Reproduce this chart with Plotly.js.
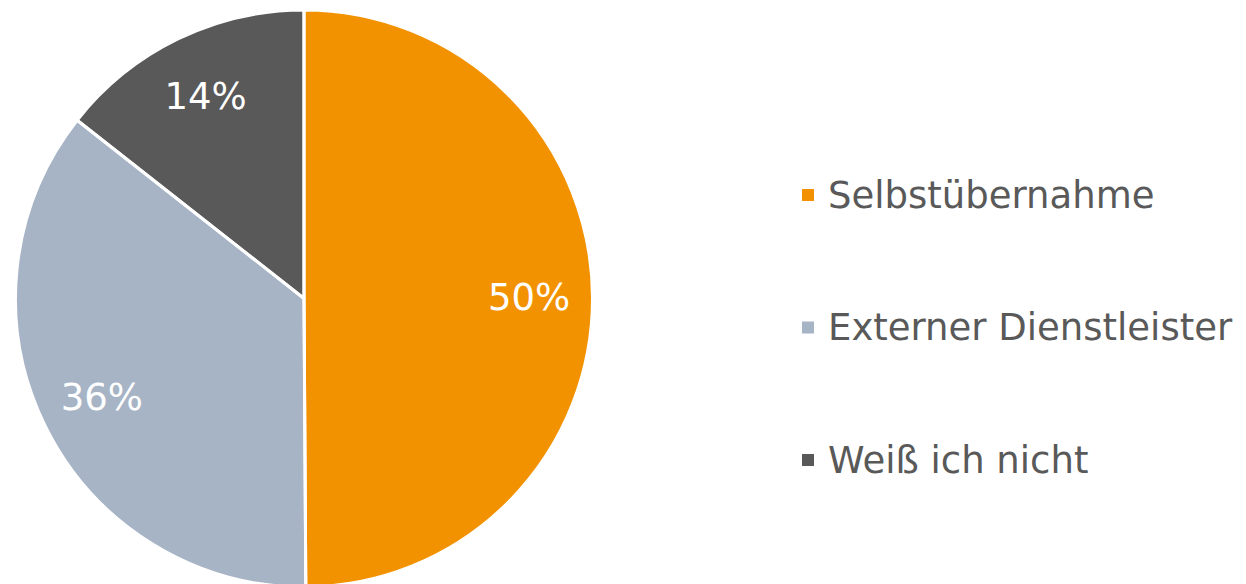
<!DOCTYPE html>
<html>
<head>
<meta charset="utf-8">
<script src="https://cdn.plot.ly/plotly-3.0.1.min.js"></script>
<style>
html,body{margin:0;padding:0;overflow:hidden;background:#fff;}
#chart{width:1246px;height:590px;}
</style>
</head>
<body>
<div id="chart"></div>
<script>
const categories = ["Selbstübernahme", "Externer Dienstleister", "Weiß ich nicht"];
const shares = [49.9, 35.7, 14.4];
const colors = ["#F39200", "#A7B4C6", "#595959"];

const FONT = "DejaVu Sans, Verdana, sans-serif";
const legendLabels = categories.map(c => '<span style="font-size:37px">' + c + '</span><br> <br> ');
const pieDomain = {x: [15.5/1246, 592.5/1246], y: [0, 1]};

const common = {
  type: "pie",
  labels: legendLabels,
  values: shares,
  sort: false,
  direction: "clockwise",
  rotation: 0,
  hoverinfo: "skip",
  domain: pieDomain
};

// filled slices (also feeds the legend)
const fill = Object.assign({}, common, {
  marker: {colors: colors, line: {width: 0}},
  textinfo: "none",
  showlegend: true
});

// white slice borders
const borders = Object.assign({}, common, {
  marker: {colors: ["rgba(0,0,0,0)", "rgba(0,0,0,0)", "rgba(0,0,0,0)"], line: {color: "#ffffff", width: 3}},
  textinfo: "none",
  showlegend: false
});

// percent labels, placed in the outer ring of the pie
const labelsTrace = Object.assign({}, common, {
  hole: 0.56,
  marker: {colors: ["rgba(0,0,0,0)", "rgba(0,0,0,0)", "rgba(0,0,0,0)"], line: {width: 0}},
  textinfo: "percent",
  texttemplate: "%{percent:.0%}",
  textposition: "inside",
  insidetextorientation: "horizontal",
  insidetextfont: {color: "#ffffff", size: 37, family: FONT},
  showlegend: false
});

const layout = {
  width: 1246,
  height: 590,
  margin: {l: 0, r: 0, t: 10, b: 3},
  paper_bgcolor: "#ffffff",
  showlegend: true,
  legend: {
    x: 788/1246, xanchor: "left",
    y: 0.728, yanchor: "top",
    valign: "top",
    font: {family: FONT, size: 33.2, color: "#595959"},
    bgcolor: "rgba(0,0,0,0)"
  }
};

Plotly.newPlot("chart", [fill, borders, labelsTrace], layout, {displayModeBar: false, staticPlot: true});
</script>
</body>
</html>
